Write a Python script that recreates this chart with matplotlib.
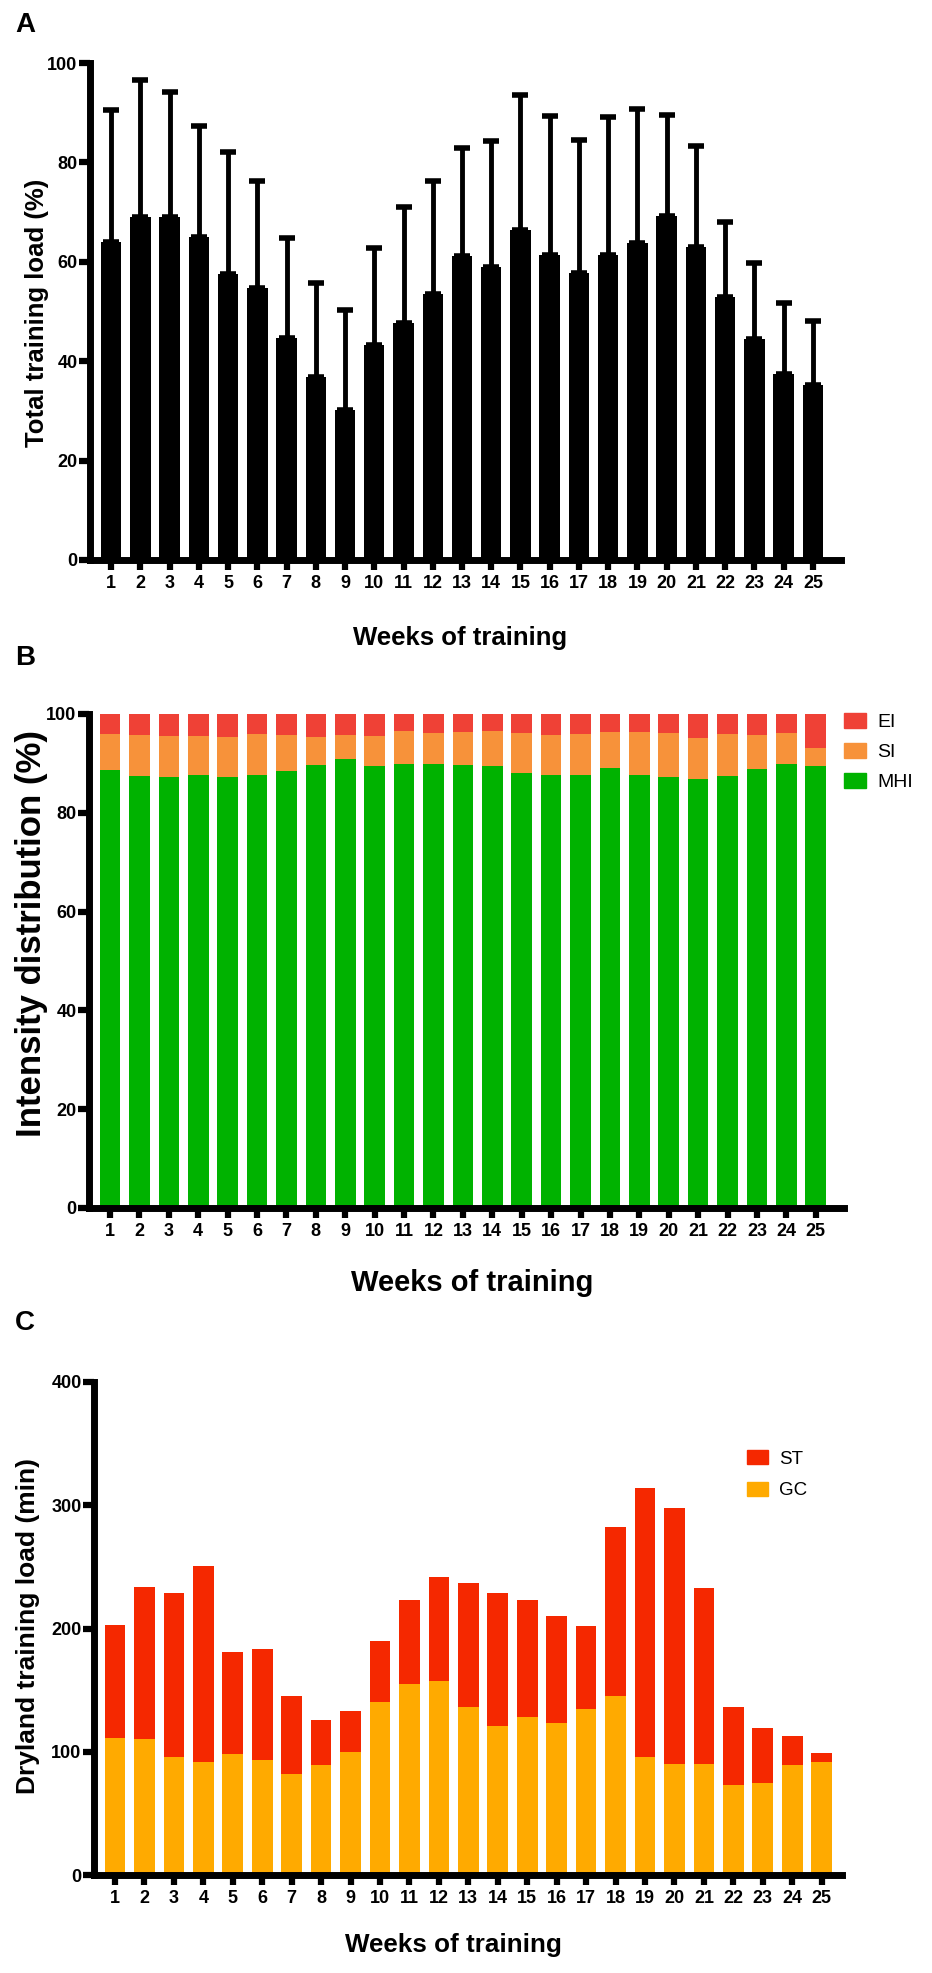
import matplotlib
matplotlib.use("Agg")
import matplotlib.pyplot as plt
from matplotlib.patches import Patch
import numpy as np

plt.rcParams['font.family'] = ['Liberation Sans', 'DejaVu Sans']

# ---------------- data ----------------
weeks = list(range(1, 26))
week_labels = [str(w) for w in weeks]

# Panel A: total training load (%) mean and SD (upper error bar)
load_mean = [64.0, 69.1, 69.1, 64.9, 57.5, 54.8, 44.7, 36.8, 30.2, 43.2, 47.6, 53.6, 61.2,
             59.0, 66.3, 61.4, 57.8, 61.4, 63.8, 69.2, 63.0, 53.0, 44.5, 37.4, 35.3]
load_sd = [26.6, 27.5, 25.0, 22.5, 24.6, 21.5, 20.1, 19.0, 20.2, 19.6, 23.5, 22.7, 21.6,
           25.4, 27.2, 28.0, 26.7, 27.8, 27.0, 20.3, 20.3, 15.0, 15.2, 14.3, 12.8]

# Panel B: intensity distribution (%)
mhi = [88.6, 87.5, 87.3, 87.7, 87.3, 87.7, 88.5, 89.7, 90.8, 89.4, 89.9, 89.9, 89.7,
       89.4, 88.1, 87.7, 87.7, 89.0, 87.7, 87.3, 86.9, 87.5, 88.8, 89.9, 89.4]
si = [7.4, 8.3, 8.2, 7.8, 8.0, 8.3, 7.3, 5.6, 5.0, 6.1, 6.7, 6.3, 6.7,
      7.2, 8.1, 8.1, 8.3, 7.4, 8.7, 8.9, 8.2, 8.5, 7.0, 6.3, 3.8]
ei = [4.0, 4.2, 4.5, 4.5, 4.7, 4.0, 4.2, 4.7, 4.2, 4.5, 3.4, 3.8, 3.6,
      3.4, 3.8, 4.2, 4.0, 3.6, 3.6, 3.8, 4.9, 4.0, 4.2, 3.8, 6.8]

# Panel C: dryland training load (min)
gc = [111, 110, 96, 92, 98, 93, 82, 89, 100, 140, 155, 157, 136,
      121, 128, 123, 135, 145, 96, 90, 90, 73, 75, 89, 92]
st = [92, 124, 133, 159, 83, 90, 63, 37, 33, 50, 68, 85, 101,
      108, 95, 87, 67, 137, 218, 208, 143, 63, 44, 24, 7]

# ---------------- style ----------------
W, H = 932, 1973
fig = plt.figure(figsize=(W / 100, H / 100), dpi=100)


def rect(l, t, r, b):
    return [l / W, 1 - b / H, (r - l) / W, (b - t) / H]


SPINE_LW = 5
BAR_W = 0.7
TICK_FS = 13

c_ei, c_si, c_mhi = '#EF4136', '#F7923A', '#00B200'
c_st, c_gc = '#F52800', '#FFAA00'


def style_axes(ax, xlim, ylim, yticks):
    ax.set_xlim(*xlim)
    ax.set_ylim(*ylim)
    for s in ['top', 'right']:
        ax.spines[s].set_visible(False)
    for s in ['left', 'bottom']:
        ax.spines[s].set_linewidth(SPINE_LW)
        ax.spines[s].set_capstyle('projecting')
    ax.set_xticks(weeks)
    ax.set_xticklabels(week_labels, fontsize=TICK_FS, fontweight='bold')
    ax.set_yticks(yticks)
    ax.set_yticklabels([str(v) for v in yticks], fontsize=TICK_FS, fontweight='bold')
    ax.tick_params(axis='x', direction='out', length=7, width=4.5, pad=4)
    ax.tick_params(axis='y', direction='out', length=8, width=4.5, pad=1)


def fig_text(x, y, s, **kw):
    fig.text(x / W, 1 - y / H, s, ha='center', va='center', **kw)


# ---------------- Panel A ----------------
axA = fig.add_axes(rect(90, 63, 841, 560))
axA.bar(weeks, load_mean, width=BAR_W, color='black', zorder=2)
axA.errorbar(weeks, load_mean, yerr=[np.zeros(len(load_sd)), load_sd], fmt='none',
             ecolor='black', elinewidth=3.5, capsize=6, capthick=4, zorder=1)
style_axes(axA, (0.28, 25.96), (0, 100), [0, 20, 40, 60, 80, 100])
for ln in axA.lines:
    ln.set_solid_capstyle('round')

fig_text(25, 25, 'A', fontsize=20, fontweight='bold')
fig_text(37, 313, 'Total training load (%)', fontsize=18.5, fontweight='bold', rotation=90)
fig_text(460, 638, 'Weeks of training', fontsize=18.5, fontweight='bold')

# ---------------- Panel B ----------------
axB = fig.add_axes(rect(89, 714, 844, 1208))
b_mhi = axB.bar(weeks, mhi, width=BAR_W, color=c_mhi, label='MHI')
b_si = axB.bar(weeks, si, width=BAR_W, bottom=mhi, color=c_si, label='SI')
b_ei = axB.bar(weeks, ei, width=BAR_W, bottom=np.add(mhi, si), color=c_ei, label='EI')
style_axes(axB, (0.285, 25.96), (0, 100), [0, 20, 40, 60, 80, 100])
legB = axB.legend(handles=[Patch(color=c_ei, label='EI'), Patch(color=c_si, label='SI'),
                           Patch(color=c_mhi, label='MHI')],
                  loc='upper left', bbox_to_anchor=(844 / W, 1 - 713 / H),
                  bbox_transform=fig.transFigure, frameon=False, fontsize=14,
                  handlelength=1.15, handleheight=0.8, handletextpad=0.55,
                  labelspacing=0.6, borderpad=0, borderaxespad=0)

fig_text(25, 658, 'B', fontsize=20, fontweight='bold')
fig_text(32, 934, 'Intensity distribution (%)', fontsize=25, fontweight='bold', rotation=90)
fig_text(472, 1283, 'Weeks of training', fontsize=21, fontweight='bold')

# ---------------- Panel C ----------------
axC = fig.add_axes(rect(94, 1382, 842, 1875))
axC.bar(weeks, gc, width=BAR_W, color=c_gc, label='GC')
axC.bar(weeks, st, width=BAR_W, bottom=gc, color=c_st, label='ST')
style_axes(axC, (0.287, 25.69), (0, 400), [0, 100, 200, 300, 400])
axC.legend(handles=[Patch(color=c_st, label='ST'), Patch(color=c_gc, label='GC')],
           loc='upper left', bbox_to_anchor=(747 / W, 1 - 1450 / H),
           bbox_transform=fig.transFigure, frameon=False, fontsize=13.5,
           handlelength=1.1, handleheight=0.8, handletextpad=0.6,
           labelspacing=0.75, borderpad=0, borderaxespad=0)

fig_text(25, 1323, 'C', fontsize=20, fontweight='bold')
fig_text(28, 1626, 'Dryland training load (min)', fontsize=19, fontweight='bold', rotation=90)
fig_text(453, 1945, 'Weeks of training', fontsize=18.7, fontweight='bold')

fig.savefig('out.png', dpi=100)
